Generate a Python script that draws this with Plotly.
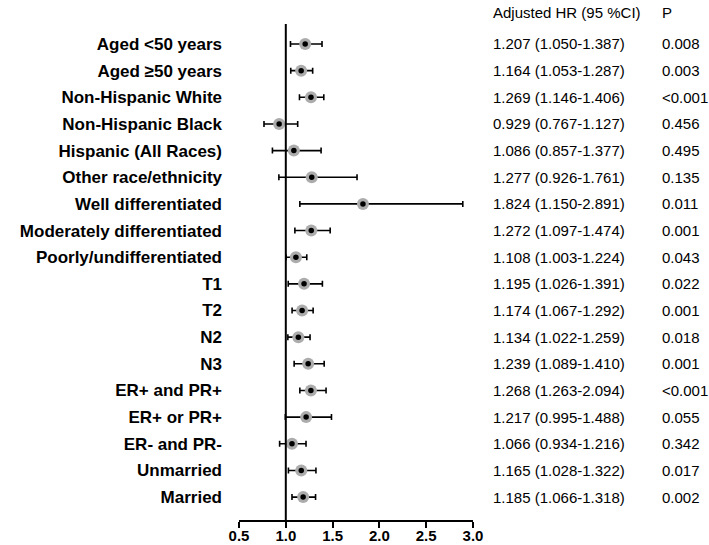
import plotly.graph_objects as go

labels = ["Aged <50 years", "Aged ≥50 years", "Non-Hispanic White", "Non-Hispanic Black",
          "Hispanic (All Races)", "Other race/ethnicity", "Well differentiated",
          "Moderately differentiated", "Poorly/undifferentiated", "T1", "T2", "N2", "N3",
          "ER+ and PR+", "ER+ or PR+", "ER- and PR-", "Unmarried", "Married"]
hr = [1.207, 1.164, 1.269, 0.929, 1.086, 1.277, 1.824, 1.272, 1.108, 1.195, 1.174, 1.134,
      1.239, 1.268, 1.217, 1.066, 1.165, 1.185]
lo = [1.050, 1.053, 1.146, 0.767, 0.857, 0.926, 1.150, 1.097, 1.003, 1.026, 1.067, 1.022,
      1.089, 1.263, 0.995, 0.934, 1.028, 1.066]
hi = [1.387, 1.287, 1.406, 1.127, 1.377, 1.761, 2.891, 1.474, 1.224, 1.391, 1.292, 1.259,
      1.410, 2.094, 1.488, 1.216, 1.322, 1.318]
pvals = ["0.008", "0.003", "<0.001", "0.456", "0.495", "0.135", "0.011", "0.001", "0.043",
         "0.022", "0.001", "0.018", "0.001", "<0.001", "0.055", "0.342", "0.017", "0.002"]
tick_vals = [0.5, 1.0, 1.5, 2.0, 2.5, 3.0]

# Whiskers as drawn in the picture (the printed ER+ and PR+ interval differs from its drawing)
draw_lo = list(lo)
draw_hi = list(hi)
draw_lo[13] = 1.15
draw_hi[13] = 1.43

rows = list(range(len(labels)))

fig = go.Figure()
fig.add_trace(go.Scatter(
    x=hr, y=rows, mode="markers",
    marker=dict(size=12, color="#acacac", line=dict(width=0)),
    error_x=dict(type="data", symmetric=False,
                 array=[h - m for h, m in zip(draw_hi, hr)],
                 arrayminus=[m - l for m, l in zip(hr, draw_lo)],
                 color="black", thickness=1.6, width=3),
    hoverinfo="skip", showlegend=False))
fig.add_trace(go.Scatter(
    x=hr, y=rows, mode="markers",
    marker=dict(size=5.5, color="black"),
    hoverinfo="skip", showlegend=False))

fig.add_shape(type="line", xref="x", yref="paper", x0=1.0, x1=1.0, y0=0, y1=1,
              line=dict(color="black", width=2))

L, R, T, B = 239, 236, 24, 25
pw = 709 - L - R
ph = 545 - T - B
def px(p):
    return (p - L) / pw

hr_txt = [f"{h:.3f} ({a:.3f}-{b:.3f})" for h, a, b in zip(hr, lo, hi)]
tfont = dict(family="Liberation Sans, Arial", size=15, color="black")
for i in rows:
    fig.add_annotation(x=px(491), y=i, xref="paper", yref="y", text=hr_txt[i],
                       showarrow=False, xanchor="left", yanchor="middle", font=tfont)
    fig.add_annotation(x=px(660), y=i, xref="paper", yref="y", text=pvals[i],
                       showarrow=False, xanchor="left", yanchor="middle", font=tfont)
head_y = 1 + (T - 12) / ph
fig.add_annotation(x=px(491), y=head_y, xref="paper", yref="paper", text="Adjusted HR (95 %CI)",
                   showarrow=False, xanchor="left", yanchor="middle", font=tfont)
fig.add_annotation(x=px(660), y=head_y, xref="paper", yref="paper", text="P",
                   showarrow=False, xanchor="left", yanchor="middle", font=tfont)

fig.update_layout(
    width=709, height=545,
    margin=dict(l=L, r=R, t=T, b=B, autoexpand=False),
    plot_bgcolor="white", paper_bgcolor="white",
    xaxis=dict(range=[0.5, 3.0], tickvals=tick_vals, ticktext=[f"<b>{v:.1f}</b>" for v in tick_vals],
               showgrid=False, zeroline=False, showline=True, linecolor="black", linewidth=2,
               ticks="outside", ticklen=6, tickwidth=2, tickcolor="black", automargin=False,
               ticklabelstandoff=-5,
               tickfont=dict(family="Liberation Sans, Arial", size=15, color="black")),
    yaxis=dict(range=[17.86, -0.75], tickvals=rows, ticktext=[f"<b>{t}</b>" for t in labels],
               showgrid=False, zeroline=False, showline=False, ticks="", ticklabelstandoff=16,
               automargin=False,
               tickfont=dict(family="Liberation Sans, Arial", size=17, color="black")),
)
fig.write_html("out.html", config={"displayModeBar": False},
               post_script="document.body.style.margin='0';document.body.style.overflow='hidden';")
